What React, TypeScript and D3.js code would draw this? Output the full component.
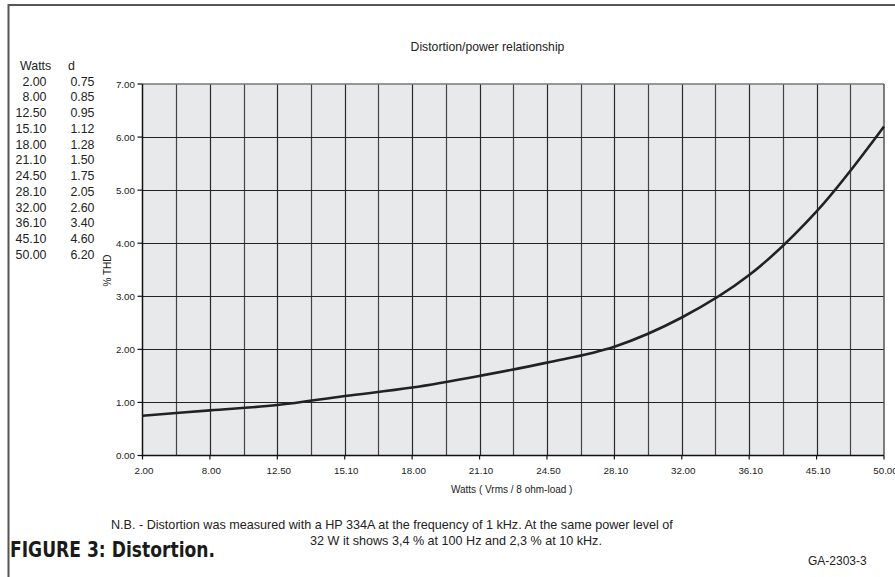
import React from "react";
import * as d3 from "d3";

const watts = ["2.00", "8.00", "12.50", "15.10", "18.00", "21.10", "24.50", "28.10", "32.00", "36.10", "45.10", "50.00"];
const thd = [0.75, 0.85, 0.95, 1.12, 1.28, 1.5, 1.75, 2.05, 2.6, 3.4, 4.6, 6.2];
const thdLabels = ["0.75", "0.85", "0.95", "1.12", "1.28", "1.50", "1.75", "2.05", "2.60", "3.40", "4.60", "6.20"];
const yTicks = [0, 1, 2, 3, 4, 5, 6, 7];
const title = "Distortion/power relationship";
const xTitle = "Watts ( Vrms / 8 ohm-load )";
const yTitle = "% THD";
const note1 = "N.B. - Distortion was measured with a HP 334A at the frequency of 1 kHz. At the same power level of";
const note2 = "32 W it shows 3,4 % at 100 Hz and 2,3 % at 10 kHz.";
const figTitle = "FIGURE 3: Distortion.";
const figCode = "GA-2303-3";

const W = 895;
const H = 577;
const L = 142.5;
const R = 884;
const T = 84;
const B = 455.5;
const FONT = "'Liberation Sans', Arial, Helvetica, sans-serif";

export default function App() {
  const x = d3.scaleLinear().domain([0, watts.length - 1]).range([L, R]);
  const y = d3.scaleLinear().domain([0, 7]).range([B, T]);
  const line = d3
    .line<number>()
    .x((_, i) => x(i))
    .y((d) => y(d))
    .curve(d3.curveCatmullRom.alpha(0.5));
  const halfSteps = d3.range(1, (watts.length - 1) * 2).map((k) => k / 2);

  return (
    <div style={{ position: "fixed", left: 0, top: 0, width: W, height: H, background: "#fff" }}>
      <svg width={W} height={H} style={{ display: "block" }} fontFamily={FONT}>
        {/* frame */}
        <line x1={8.5} x2={8.5} y1={4} y2={H} stroke="#555" strokeWidth={2} />
        <line x1={8} x2={W} y1={5} y2={5} stroke="#555" strokeWidth={2} />

        {/* table */}
        <text x={20} y={70} fontSize={12.4} fill="#222">Watts</text>
        <text x={68} y={70} fontSize={12.4} fill="#222">d</text>
        {watts.map((w, i) => (
          <g key={w}>
            <text x={46.5} y={85.5 + i * 15.77} fontSize={12.4} textAnchor="end" fill="#222">{w}</text>
            <text x={94.5} y={85.5 + i * 15.77} fontSize={12.4} textAnchor="end" fill="#222">{thdLabels[i]}</text>
          </g>
        ))}

        {/* title */}
        <text x={487.5} y={50.5} fontSize={12.2} textAnchor="middle" fill="#222">{title}</text>

        {/* plot area */}
        <rect x={L} y={T} width={R - L} height={B - T} fill="#e8e9eb" />
        {halfSteps.map((k) => (
          <line key={k} x1={Math.round(x(k)) + 0.5} x2={Math.round(x(k)) + 0.5} y1={T} y2={B} stroke={k % 1 === 0 ? "#2a2a2a" : "#444"} strokeWidth={1.2} />
        ))}
        {yTicks.slice(1, -1).map((t) => (
          <line key={t} x1={L} x2={R} y1={Math.round(y(t)) + 0.5} y2={Math.round(y(t)) + 0.5} stroke="#222" strokeWidth={1.2} />
        ))}
        <line x1={L} x2={R} y1={T} y2={T} stroke="#777" strokeWidth={1.5} />
        <line x1={R} x2={R} y1={T} y2={B} stroke="#555" strokeWidth={1.5} />
        <line x1={L} x2={L} y1={T} y2={B + 1} stroke="#111" strokeWidth={1.5} />
        <line x1={L} x2={R} y1={B} y2={B} stroke="#111" strokeWidth={1.5} />

        {/* y ticks */}
        {yTicks.map((t) => (
          <g key={t}>
            <line x1={L - 5} x2={L} y1={y(t)} y2={y(t)} stroke="#111" strokeWidth={1.2} />
            <text x={135} y={y(t) + 3.5} fontSize={9.8} textAnchor="end" fill="#222">{t.toFixed(2)}</text>
          </g>
        ))}
        {/* x ticks */}
        {watts.map((w, i) => (
          <g key={w}>
            <line x1={x(i)} x2={x(i)} y1={B} y2={B + 4} stroke="#111" strokeWidth={1.2} />
            <text x={x(i) + 1.5} y={474} fontSize={9.8} textAnchor="middle" fill="#222">{w}</text>
          </g>
        ))}

        {/* axis titles */}
        <text x={511.7} y={492.5} fontSize={10} textAnchor="middle" fill="#222">{xTitle}</text>
        <text transform="translate(111,270.5) rotate(-90)" fontSize={10} textAnchor="middle" fill="#222">{yTitle}</text>

        {/* curve */}
        <path d={line(thd) || ""} fill="none" stroke="#222" strokeWidth={2.6} strokeLinejoin="round" />

        {/* notes */}
        <text x={111} y={528.5} fontSize={12.6} fill="#222">{note1}</text>
        <text x={310} y={544.5} fontSize={12.6} fill="#222">{note2}</text>
        <text x={10} y={557} fontSize={21} fontWeight="bold" fill="#1a1a1a" fontFamily="'DejaVu Sans Condensed', 'DejaVu Sans', sans-serif" textLength={205} lengthAdjust="spacingAndGlyphs" style={{ fontStretch: "condensed" }}>{figTitle}</text>
        <text x={808} y={565} fontSize={12} fill="#222">{figCode}</text>
      </svg>
    </div>
  );
}
